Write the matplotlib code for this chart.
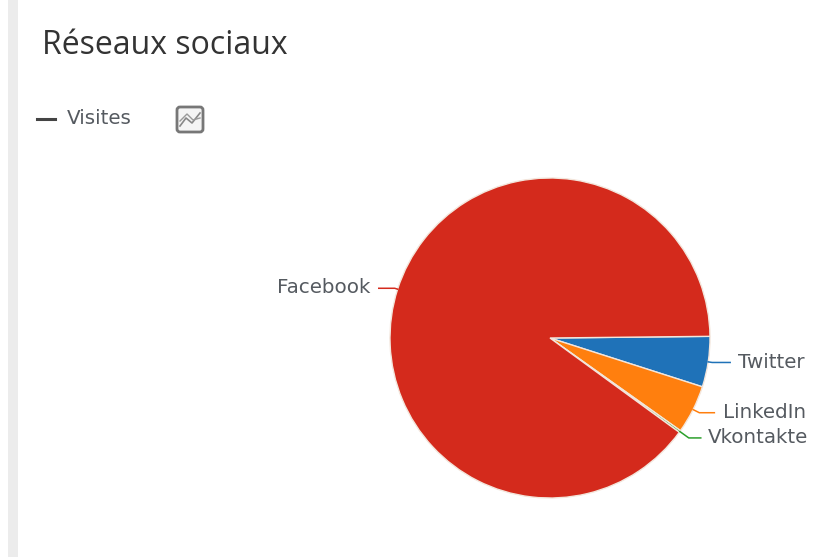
import numpy as np
import matplotlib
matplotlib.use("Agg")
import matplotlib.pyplot as plt
from matplotlib.lines import Line2D
from matplotlib.patches import FancyBboxPatch, Rectangle

networks = ["Twitter", "LinkedIn", "Vkontakte", "Facebook"]
visits = [5.1, 4.9, 0.2, 89.8]
slice_colors = ["#1f72b8", "#ff7f0e", "#2ca02c", "#d42a1c"]
title_text = "Réseaux sociaux"
legend_text = "Visites"

TEXT = "#555a60"
LABEL_FONT = dict(fontsize=14.3, family="DejaVu Sans", color=TEXT)

fig = plt.figure(figsize=(8.13, 5.57), dpi=100, facecolor="white")
ax = fig.add_axes([0, 0, 1, 1])

# Panel edge on the left
ax.add_patch(Rectangle((8, 0), 10, 557, facecolor="#ececec", edgecolor="none"))

ax.text(42, 54, title_text, fontsize=23, family="Open Sans", color="#333333",
        ha="left", va="baseline")

# Legend entry and chart-type button
ax.add_line(Line2D([37, 55], [118.5, 118.5], color="#444444", lw=2.2))
ax.text(67, 124, legend_text, ha="left", va="baseline", **LABEL_FONT)
ax.add_patch(FancyBboxPatch((177, 107), 26, 25, boxstyle="round,pad=0,rounding_size=3",
                            facecolor="#f4f4f4", edgecolor="#777777", lw=2))
ax.add_line(Line2D([180, 186, 192, 200], [126, 118, 123, 113], color="#888888", lw=1.2))
ax.add_line(Line2D([180, 187, 193, 200], [121, 114, 120, 118], color="#999999", lw=1))

# The y axis points down, so increasing wedge angles run clockwise on screen
center = (550, 338)
radius = 160
wedges, _ = ax.pie(visits, colors=slice_colors, startangle=-0.6, counterclock=True,
                   center=center, radius=radius, frame=True,
                   wedgeprops=dict(edgecolor="#f3e6dc", linewidth=1.0))
ax.set_xlim(0, 813)
ax.set_ylim(557, 0)
ax.set_aspect("auto")
ax.axis("off")

# Label placement: outward reach, horizontal run, text gap and vertical nudge
callouts = {
    "Twitter": (4, 18, 8, 0),
    "LinkedIn": (7, 15, 9, 0),
    "Vkontakte": (11, 12, 7, 0),
    "Facebook": (3, 16, 8, -1),
}

for wedge, name, color in zip(wedges, networks, slice_colors):
    mid = np.deg2rad((wedge.theta1 + wedge.theta2) / 2)
    ux, uy = np.cos(mid), np.sin(mid)
    x0 = center[0] + radius * ux
    y0 = center[1] + radius * uy
    reach, run, gap, nudge = callouts[name]
    side = 1 if ux >= 0 else -1
    x1 = x0 + reach * ux
    y1 = y0 + reach * uy
    x2 = x1 + side * run
    ax.add_line(Line2D([x0, x1, x2], [y0, y1, y1], color=color, lw=1.1))
    ax.text(x2 + side * gap, y1 + nudge, name, ha="left" if side > 0 else "right",
            va="center", **LABEL_FONT)

fig.savefig("out.png", dpi=100, facecolor="white")
